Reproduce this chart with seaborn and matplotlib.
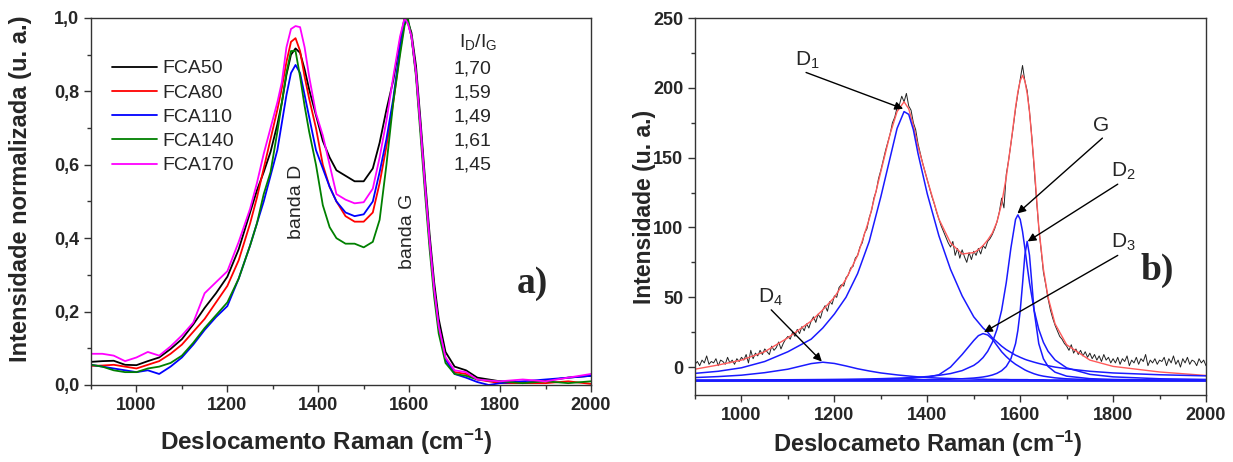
import matplotlib
matplotlib.use('Agg')
import matplotlib.pyplot as plt
import seaborn as sns
import numpy as np
import pandas as pd
from matplotlib.ticker import MultipleLocator, FuncFormatter

# ---------------- dados painel a) ----------------
raman_x = [900, 925, 950, 975, 1000, 1025, 1050, 1075, 1100, 1125,
           1150, 1175, 1200, 1225, 1250, 1265, 1280, 1295, 1310, 1320,
           1330, 1340, 1350, 1360, 1370, 1380, 1395, 1410, 1425, 1440,
           1460, 1480, 1500, 1520, 1535, 1550, 1565, 1580, 1590, 1597,
           1605, 1615, 1625, 1635, 1645, 1655, 1665, 1680, 1700, 1725,
           1750, 1775, 1800, 1850, 1900, 1950, 2000]

fca50 = [0.063, 0.065, 0.066, 0.055, 0.054, 0.065, 0.075, 0.098, 0.125, 0.165,
         0.21, 0.25, 0.295, 0.37, 0.47, 0.53, 0.58, 0.635, 0.71, 0.77,
         0.845, 0.9, 0.917, 0.905, 0.86, 0.805, 0.735, 0.665, 0.62, 0.585,
         0.57, 0.555, 0.555, 0.59, 0.66, 0.75, 0.83, 0.94, 1.0, 0.99,
         0.96, 0.87, 0.72, 0.56, 0.41, 0.28, 0.18, 0.09, 0.05, 0.04,
         0.02, 0.015, 0.01, 0.005, 0.012, 0.02, 0.025]
fca80 = [0.052, 0.053, 0.055, 0.05, 0.045, 0.055, 0.065, 0.085, 0.11, 0.145,
         0.18, 0.225, 0.27, 0.34, 0.44, 0.51, 0.59, 0.67, 0.75, 0.81,
         0.88, 0.935, 0.945, 0.91, 0.84, 0.78, 0.70, 0.60, 0.54, 0.50,
         0.46, 0.445, 0.445, 0.47, 0.55, 0.65, 0.77, 0.91, 0.99, 0.99,
         0.95, 0.85, 0.70, 0.54, 0.39, 0.26, 0.16, 0.07, 0.035, 0.03,
         0.015, 0.01, 0.005, 0.005, 0.005, 0.01, 0.003]
fca110 = [0.055, 0.05, 0.045, 0.04, 0.035, 0.04, 0.03, 0.05, 0.075, 0.11,
          0.15, 0.185, 0.215, 0.29, 0.38, 0.44, 0.50, 0.57, 0.64, 0.715,
          0.79, 0.85, 0.872, 0.85, 0.79, 0.73, 0.64, 0.59, 0.54, 0.50,
          0.47, 0.46, 0.465, 0.50, 0.58, 0.67, 0.78, 0.92, 0.99, 0.99,
          0.95, 0.85, 0.70, 0.54, 0.39, 0.26, 0.16, 0.07, 0.03, 0.02,
          0.008, 0.0, 0.005, 0.01, 0.015, 0.02, 0.025]
fca140 = [0.055, 0.05, 0.04, 0.035, 0.035, 0.045, 0.05, 0.06, 0.08, 0.115,
          0.155, 0.19, 0.225, 0.29, 0.38, 0.44, 0.52, 0.58, 0.69, 0.77,
          0.85, 0.91, 0.91, 0.84, 0.76, 0.69, 0.60, 0.49, 0.43, 0.40,
          0.385, 0.385, 0.375, 0.39, 0.45, 0.60, 0.77, 0.90, 0.98, 1.0,
          0.95, 0.84, 0.68, 0.52, 0.37, 0.24, 0.14, 0.06, 0.03, 0.025,
          0.015, 0.012, 0.01, 0.005, 0.01, 0.005, 0.01]
fca170 = [0.085, 0.085, 0.08, 0.065, 0.075, 0.09, 0.08, 0.105, 0.135, 0.17,
          0.25, 0.28, 0.31, 0.39, 0.48, 0.55, 0.63, 0.70, 0.77, 0.826,
          0.92, 0.97, 0.978, 0.975, 0.92, 0.84, 0.74, 0.68, 0.60, 0.52,
          0.505, 0.495, 0.498, 0.535, 0.62, 0.72, 0.84, 0.95, 1.0, 0.985,
          0.95, 0.85, 0.70, 0.54, 0.39, 0.26, 0.16, 0.075, 0.04, 0.035,
          0.015, 0.012, 0.01, 0.015, 0.01, 0.02, 0.03]

amostras = ['FCA50', 'FCA80', 'FCA110', 'FCA140', 'FCA170']
cores = ['black', 'red', 'blue', 'green', 'magenta']
razao_id_ig = ['1,70', '1,59', '1,49', '1,61', '1,45']

# ---------------- dados painel b) ----------------
exp_x = np.arange(900, 2001, 5)
exp_y = [2, 4, 1, 5, 3, 8, 2, 4, 3, 6, 1, 5, 4, 2, 7, 3, 5, 2, 6, 4,
         7, 5, 9, 3, 12, 6, 10, 8, 12, 9, 13, 11, 9, 15, 12, 14, 18, 13, 17, 20,
         22, 20, 25, 22, 27, 24, 29, 26, 31, 28, 33, 36, 32, 38, 35, 41, 44, 40, 47, 45,
         51, 50, 57, 59, 58, 64, 66, 71, 72, 78, 80, 86, 89, 96, 99, 107, 112, 121, 126, 135,
         141, 148, 155, 161, 167, 175, 179, 186, 188, 194, 190, 196, 187, 184, 175, 170, 160, 153, 146, 140,
         134, 128, 122, 117, 111, 106, 101, 97, 93, 89, 86, 90, 80, 85, 78, 84, 79, 75, 82, 77,
         83, 80, 85, 81, 87, 85, 90, 92, 95, 99, 104, 111, 121, 114, 138, 148, 160, 172, 185, 196,
         206, 216, 205, 198, 183, 165, 142, 120, 100, 84, 68, 59, 49, 41, 35, 30, 26, 22, 20, 17,
         15, 12, 16, 10, 13, 9, 12, 8, 11, 7, 10, 6, 9, 5, 8, 4, 9, 5, 7, 3,
         6, 3, 7, 2, 6, 4, 8, 1, 5, 3, 7, 2, 6, 4, 9, 1, 5, 3, 6, 2,
         5, 4, 7, 1, 6, 3, 8, 2, 5, 0, 6, 3, 7, 2, 5, 4, 1, 6, 3, 5,
         1]

fit_x = [900, 950, 1000, 1050, 1100, 1150, 1175, 1200, 1225, 1250,
         1275, 1300, 1320, 1335, 1350, 1360, 1370, 1380, 1400, 1425,
         1450, 1475, 1500, 1510, 1520, 1530, 1540, 1550, 1560, 1570,
         1580, 1590, 1595, 1600, 1605, 1610, 1615, 1620, 1630, 1640,
         1650, 1660, 1675, 1700, 1750, 1800, 1900, 2000]
ajuste = [-1.5, 1.5, 5, 11, 21, 33, 41, 50, 63, 80,
          106, 140, 167, 183, 190, 185, 173, 158, 134, 106,
          89, 81, 82, 84, 87, 91, 96, 104, 117, 136,
          160, 186, 197, 205, 209, 205, 196, 183, 145, 100,
          70, 50, 31, 16, 5, 0.5, -3.5, -6]
pico_d1 = [-4.5, -3, -0.5, 4, 11, 20, 28, 38, 50, 67,
           90, 122, 150, 171, 183, 181, 170, 153, 124, 94,
           70, 51, 36, 32, 28, 25, 21, 18, 15, 12.5,
           10.5, 8.5, 7.8, 7, 6.3, 5.6, 5, 4.5, 3.5, 2.6,
           1.8, 1, 0, -1.2, -3, -4.2, -5.5, -6.3]
pico_d4 = [-7.5, -6.8, -5.8, -4, -1.5, 2.5, 3.5, 2.6, 0.8, -1.2,
           -2.8, -4.2, -5, -5.6, -6.1, -6.4, -6.7, -7, -7.5, -7.9,
           -8.2, -8.4, -8.6, -8.7, -8.7, -8.8, -8.8, -8.9, -8.9, -8.9,
           -9.0, -9.0, -9.0, -9.0, -9.0, -9.0, -9.0, -9.1, -9.1, -9.1,
           -9.1, -9.2, -9.2, -9.2, -9.3, -9.3, -9.4, -9.4]
pico_d3 = [-9.8, -9.8, -9.7, -9.7, -9.6, -9.5, -9.5, -9.4, -9.3, -9.2,
           -9.1, -8.9, -8.7, -8.5, -8.3, -8.1, -7.9, -7.6, -7.2, -5.5,
           0, 9, 19, 22.5, 24, 23, 20, 15.5, 11, 7.5,
           4.5, 2, 1, 0, -1, -2, -2.8, -3.5, -4.8, -5.8,
           -6.5, -7, -7.7, -8.4, -9, -9.3, -9.5, -9.6]
pico_g = [-9.3, -9.24, -9.2, -9.14, -9.07, -8.96, -8.9, -8.82, -8.73, -8.6,
          -8.47, -8.29, -8.1, -7.94, -7.75, -7.6, -7.43, -7.24, -6.76, -5.92,
          -4.64, -2.53, 1.2, 3.6, 6.8, 11.3, 17.7, 27, 40.7, 60.5,
          85.3, 105.8, 109, 105.8, 97.2, 85.3, 72.5, 60.5, 40.7, 27,
          17.7, 11.3, 5.1, -0.56, -5.2, -7.0, -8.36, -8.85]
pico_d2 = [-9.46, -9.45, -9.44, -9.43, -9.42, -9.4, -9.39, -9.37, -9.35, -9.32,
           -9.3, -9.27, -9.23, -9.2, -9.18, -9.12, -9.07, -9.02, -9.02, -8.88,
           -8.68, -8.37, -7.84, -7.5, -7.08, -6.5, -5.67, -4.47, -2.6, 0.45,
           5.95, 16.8, 26.3, 40.25, 59.4, 80.1, 90, 80.1, 40.25, 16.8,
           5.95, 0.45, -3.65, -6.5, -8.29, -8.85, -9.23, -9.35]
linha_base = [-9.9, -9.9]
linha_base_x = [900, 2000]

rotulos_picos = ['D$_1$', 'G', 'D$_2$', 'D$_3$', 'D$_4$']
pos_rotulos = [(1141, 220), (1775, 173), (1822, 140), (1822, 89), (1062, 50)]
setas_inicio = [(1139, 211), (1777, 164), (1810, 131), (1810, 80), (1064, 41)]
setas_fim = [(1348, 185), (1594, 110), (1616, 90), (1522, 25), (1173, 4)]

# ---------------- estilo ----------------
sns.set_theme(style='ticks')
plt.rcParams['font.family'] = ['Liberation Sans', 'DejaVu Sans']
plt.rcParams['mathtext.default'] = 'regular'
plt.rcParams['axes.linewidth'] = 1.0
plt.rcParams['axes.edgecolor'] = '#333333'

fig = plt.figure(figsize=(12.33, 4.62), dpi=100)
ax1 = fig.add_axes([0.0738, 0.1667, 0.4055, 0.7944])
ax2 = fig.add_axes([0.5637, 0.145, 0.4144, 0.816])


def estilo_eixo(ax):
    ax.tick_params(which='major', direction='out', length=5, width=1,
                   labelsize=13, top=False, right=False, color='#333333')
    ax.tick_params(which='minor', direction='out', length=3, width=1,
                   top=False, right=False, color='#333333')
    ax.xaxis.set_major_locator(MultipleLocator(200))
    ax.xaxis.set_minor_locator(MultipleLocator(100))
    ax.set_xlim(900, 2000)
    for s in ax.spines.values():
        s.set_visible(True)


# ---------------- painel a) ----------------
series = [fca50, fca80, fca110, fca140, fca170]
for nome, cor, ys in zip(amostras, cores, series):
    sns.lineplot(x=raman_x, y=ys, color=cor, lw=1.3, label=nome,
                 estimator=None, ax=ax1)

estilo_eixo(ax1)
ax1.set_ylim(0, 1.0)
ax1.yaxis.set_major_locator(MultipleLocator(0.2))
ax1.yaxis.set_minor_locator(MultipleLocator(0.1))
ax1.yaxis.set_major_formatter(FuncFormatter(lambda v, p: f'{v:.1f}'.replace('.', ',')))
ax1.set_xlabel('Deslocamento Raman (cm$^{-1}$)', fontsize=17.5, fontweight='bold')
ax1.set_ylabel('Intensidade normalizada (u. a.)', fontsize=17, fontweight='bold')
ax1.xaxis.set_label_coords(0.47, -0.115)
ax1.yaxis.set_label_coords(-0.118, 0.535)
plt.setp(ax1.get_xticklabels() + ax1.get_yticklabels(), fontweight='bold')

ax1.legend(loc='upper left', bbox_to_anchor=(0.042, 0.886), frameon=False,
           fontsize=14, handlelength=2.3, handletextpad=0.3,
           labelspacing=0.34, borderpad=0, borderaxespad=0)

ax1.text(1751, 0.935, 'I$_D$/I$_G$', fontsize=14, ha='center', va='center')
for i, r in enumerate(razao_id_ig):
    ax1.text(1740, 0.862 - 0.0655 * i, r, fontsize=14, ha='center', va='center')

ax1.text(1352, 0.50, 'banda D', rotation=90, fontsize=14, ha='center', va='center')
ax1.text(1596, 0.42, 'banda G', rotation=90, fontsize=14, ha='center', va='center')
ax1.text(1872, 0.276, 'a)', fontsize=27, fontweight='bold',
         family='Liberation Serif', ha='center', va='center')

# ---------------- painel b) ----------------
sns.lineplot(x=exp_x, y=exp_y, color='#222222', lw=0.7, estimator=None, ax=ax2)
sns.lineplot(x=fit_x, y=ajuste, color='#ff5a5a', lw=1.0, estimator=None, ax=ax2)
for comp in [pico_d1, pico_d4, pico_d3, pico_g, pico_d2]:
    sns.lineplot(x=fit_x, y=comp, color='#1a1aff', lw=1.1, estimator=None, ax=ax2)
sns.lineplot(x=linha_base_x, y=linha_base, color='#1a1aff', lw=1.3, estimator=None, ax=ax2)

estilo_eixo(ax2)
ax2.set_ylim(-20, 250)
ax2.yaxis.set_major_locator(MultipleLocator(50))
ax2.yaxis.set_minor_locator(MultipleLocator(25))
ax2.set_xlabel('Deslocameto Raman (cm$^{-1}$)', fontsize=17, fontweight='bold')
ax2.set_ylabel('Intensidade (u. a.)', fontsize=16.5, fontweight='bold', labelpad=-2)
ax2.xaxis.set_label_coords(0.455, -0.09)
plt.setp(ax2.get_xticklabels() + ax2.get_yticklabels(), fontweight='bold')

for rot, pos, ini, fim in zip(rotulos_picos, pos_rotulos, setas_inicio, setas_fim):
    ax2.text(pos[0], pos[1], rot, fontsize=15, ha='center', va='center')
    ax2.annotate('', xy=fim, xytext=ini,
                 arrowprops=dict(arrowstyle='-|>', color='black', lw=1.0,
                                 mutation_scale=12, shrinkA=0, shrinkB=0))

ax2.text(1895, 69, 'b)', fontsize=27, fontweight='bold',
         family='Liberation Serif', ha='center', va='center')

fig.savefig('out.png', dpi=100)
